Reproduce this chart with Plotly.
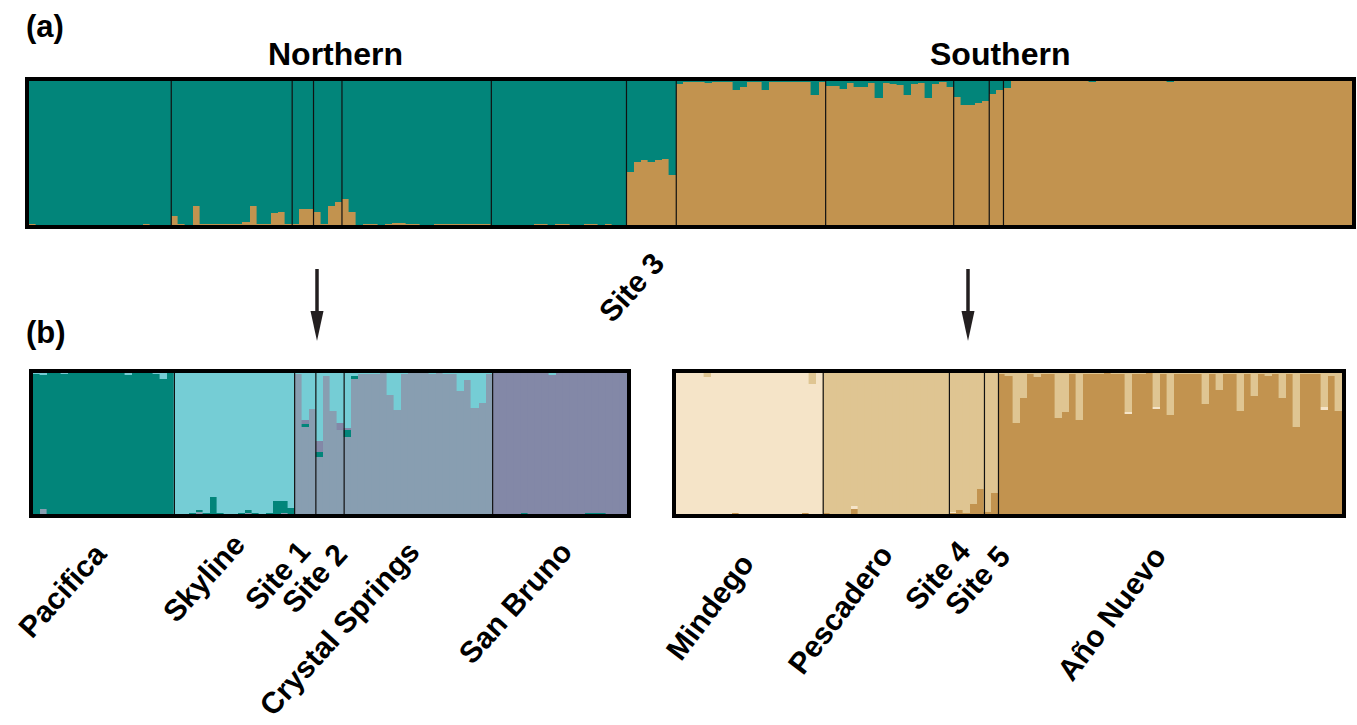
import plotly.graph_objects as go

W, H = 1357, 725

# ---------------- populations ----------------
north_pops = ["Pacifica", "Skyline", "Site 1", "Site 2", "Crystal Springs", "San Bruno"]
north_sizes = [20, 17, 3, 4, 21, 19]
mid_pops = ["Site 3"]
mid_sizes = [7]
south_pops = ["Mindego", "Pescadero", "Site 4", "Site 5", "Año Nuevo"]
south_sizes = [21, 18, 5, 2, 49]

# ---------------- (a) K = 2 : southern-cluster (tan) share of northern + Site 3 birds
a_north_tan = (
    [0.01, 0, 0, 0, 0, 0, 0, 0, 0, 0, 0, 0, 0, 0, 0, 0, 0.005, 0, 0, 0]                      # Pacifica
    + [0.06, 0.005, 0, 0.13, 0.01, 0.005, 0.01, 0.005, 0.01, 0.01, 0.02, 0.13, 0.005, 0.01,
       0.08, 0.09, 0.01]                                                                   # Skyline
    + [0.01, 0.11, 0.11]                                                                   # Site 1
    + [0.09, 0.01, 0.13, 0.16]                                                             # Site 2
    + [0.18, 0.09, 0, 0.01, 0.005, 0, 0.005, 0.015, 0.015, 0.005, 0.005, 0.003, 0, 0.005,
       0.005, 0.005, 0.008, 0.005, 0.005, 0.008, 0.008]                                    # Crystal Springs
    + [0, 0, 0, 0, 0.003, 0, 0.005, 0.01, 0.003, 0.01, 0.005, 0, 0.003, 0.005, 0.005,
       0.003, 0.005, 0, 0]                                                                 # San Bruno
    + [0.37, 0.44, 0.45, 0.44, 0.45, 0.46, 0.35]                                           # Site 3
)
# northern-cluster (teal) share of southern birds
a_south_teal = (
    [0.02, 0.01, 0.01, 0.005, 0.015, 0.005, 0.005, 0.005, 0.06, 0.045, 0.01, 0.01, 0.06,
     0.005, 0.005, 0.005, 0.005, 0.005, 0.01, 0.1, 0.01]                                   # Mindego
    + [0.035, 0.035, 0.055, 0.015, 0.04, 0.045, 0.015, 0.12, 0.015, 0.02, 0.03, 0.095,
       0.02, 0.015, 0.12, 0.02, 0.01, 0.045]                                               # Pescadero
    + [0.11, 0.17, 0.17, 0.15, 0.14]                                                       # Site 4
    + [0.09, 0.06]                                                                         # Site 5
    + [0.05, 0, 0, 0, 0, 0, 0, 0, 0, 0, 0, 0, 0.01, 0, 0, 0, 0, 0, 0, 0, 0, 0, 0, 0.01,
       0, 0, 0, 0, 0, 0, 0, 0, 0, 0, 0, 0, 0, 0, 0, 0, 0, 0, 0, 0, 0, 0, 0, 0, 0]          # Año Nuevo
)

# ---------------- (b) northern K = 4 (None = remainder / dominant cluster)
bl_grey = (
    [0, 0.035] + [0] * 18
    + [0, 0, 0, 0.015, 0, 0, 0, 0, 0, 0, 0.01, 0, 0, 0, 0, 0.01, 0]
    + [None] * 3 + [None] * 4 + [None] * 21
    + [0] * 19
)
bl_teal = (
    [None] * 20
    + [0, 0.003, 0.005, 0.01, 0.005, 0.12, 0.005, 0, 0, 0.005, 0.02, 0.01, 0, 0.005, 0.09, 0.08, 0.045]
    + [0, 0.02, 0]
    + [0.035, 0, 0, 0]
    + [0.047, 0.025] + [0] * 19
    + [0, 0, 0, 0, 0.008, 0, 0, 0, 0, 0, 0, 0, 0, 0.005, 0.005, 0.005, 0, 0, 0]
)
bl_purple = (
    [0] * 20 + [0] * 17
    + [0, 0.035, 0]
    + [0.083, 0, 0, 0.047]
    + [0.015] + [0] * 20
    + [None] * 19
)
bl_cyan = (
    [0.01, 0.015, 0, 0, 0.005, 0, 0, 0, 0, 0, 0, 0, 0, 0.012, 0, 0, 0, 0.01, 0.04, 0]
    + [None] * 17
    + [0.01, 0.33, 0.255]
    + [0.48, 0.02, 0.27, 0.355]
    + [0.39, 0.02, 0.01, 0.01, 0.005, 0, 0.155, 0.26, 0.005, 0, 0, 0, 0.005, 0, 0.005,
       0.01, 0.125, 0.05, 0.245, 0.21, 0.01]
    + [0, 0, 0, 0, 0, 0, 0, 0, 0.012, 0, 0, 0, 0, 0, 0, 0, 0, 0, 0]
)

# ---------------- (b) southern K = 3
br_orange = (
    [0, 0, 0, 0, 0, 0, 0, 0, 0.005, 0, 0, 0, 0, 0, 0, 0, 0, 0, 0.005, 0, 0]
    + [0.005, 0, 0, 0, 0.035, 0, 0.003, 0, 0, 0, 0, 0, 0, 0, 0, 0, 0, 0]
    + [0.005, 0.03, 0.005, 0.07, 0.177]
    + [0.015, 0.146]
    + [None] * 49
)
br_cream = (
    [None] * 21
    + [0, 0, 0, 0, 0.02] + [0] * 13
    + [0.01, 0, 0, 0, 0]
    + [0, 0]
    + [0] * 18 + [0.012, 0, 0, 0, 0.012] + [0] * 23 + [0.02, 0, 0]
)
br_tan = (
    [0, 0, 0, 0, 0.025] + [0] * 14 + [0.08, 0]
    + [None] * 18 + [None] * 5 + [None] * 2
    + [0.01, 0.02, 0.354, 0.18, 0.005, 0.03, 0.005, 0.005, 0.32, 0.28, 0.005, 0.33, 0.005,
       0.005, 0.005, 0, 0.005, 0.005, 0.28, 0.005, 0.005, 0, 0.24, 0.005, 0.30, 0.005, 0.01,
       0.005, 0.005, 0.22, 0.005, 0.12, 0.005, 0.005, 0.27, 0.005, 0.16, 0.005, 0.02, 0.005,
       0.18, 0.005, 0.38, 0.005, 0.005, 0.005, 0.24, 0.02, 0.27]
)

# ---------------- colours
TEAL = "#02857a"
TAN = "#c2934f"
CYAN = "#75cdd5"
GREY = "#889eb1"
PURPLE = "#8388a7"
CREAM = "#f5e4c8"
MIDTAN = "#dfc592"


def fill_remainder(*arrays):
    n = len(arrays[0])
    out = [list(a) for a in arrays]
    for i in range(n):
        known = sum(a[i] for a in out if a[i] is not None)
        for a in out:
            if a[i] is None:
                a[i] = max(0.0, 1.0 - known)
    return out


bl_grey, bl_teal, bl_purple, bl_cyan = fill_remainder(bl_grey, bl_teal, bl_purple, bl_cyan)
br_orange, br_cream, br_tan = fill_remainder(br_orange, br_cream, br_tan)

a_tan = a_north_tan + [1 - t for t in a_south_teal]
a_teal = [1 - t for t in a_north_tan] + a_south_teal

NA = len(a_tan)
NL = len(bl_grey)
NR = len(br_orange)

fig = go.Figure()


def add_bars(vals, color, xa, ya):
    fig.add_trace(go.Bar(
        x=list(range(len(vals))), y=vals, width=1,
        marker=dict(color=color, line=dict(width=0.4, color=color)),
        xaxis=xa, yaxis=ya, showlegend=False, hoverinfo="skip"))


add_bars(a_tan, TAN, "x", "y")
add_bars(a_teal, TEAL, "x", "y")

add_bars(bl_grey, GREY, "x2", "y2")
add_bars(bl_teal, TEAL, "x2", "y2")
add_bars(bl_purple, PURPLE, "x2", "y2")
add_bars(bl_cyan, CYAN, "x2", "y2")

add_bars(br_orange, TAN, "x3", "y3")
add_bars(br_cream, CREAM, "x3", "y3")
add_bars(br_tan, MIDTAN, "x3", "y3")


def px(x):
    return x / W


def py(y):
    return 1 - y / H


# panel pixel boxes (inner)
A = (29, 81, 1352, 225)
BL = (33, 373, 627, 514)
BR = (676, 373, 1342, 514)

axis_common = dict(showticklabels=False, showgrid=False, zeroline=False, ticks="",
                   showline=False, fixedrange=True)
layout = dict(
    width=W, height=H, margin=dict(l=0, r=0, t=0, b=0),
    paper_bgcolor="white", plot_bgcolor="white",
    barmode="stack", bargap=0, showlegend=False,
    font=dict(family="Liberation Sans, Arial, sans-serif", color="black"),
)
for name, box, n in (("", A, NA), ("2", BL, NL), ("3", BR, NR)):
    layout["xaxis" + name] = dict(axis_common, domain=[px(box[0]), px(box[2])], range=[-0.5, n - 0.5],
                                  anchor="y" + name)
    layout["yaxis" + name] = dict(axis_common, domain=[py(box[3]), py(box[1])], range=[0, 1],
                                  anchor="x" + name)
fig.update_layout(**layout)

shapes = []


def separators(sizes, xref, yref):
    c = 0
    for s in sizes[:-1]:
        c += s
        shapes.append(dict(type="line", xref=xref, yref=yref + " domain", x0=c - 0.5, x1=c - 0.5,
                           y0=0, y1=1, line=dict(color="#111111", width=1.2)))


separators(north_sizes + mid_sizes + south_sizes, "x", "y")
separators(north_sizes, "x2", "y2")
separators(south_sizes, "x3", "y3")

for box in (A, BL, BR):
    shapes.append(dict(type="rect", xref="paper", yref="paper",
                       x0=px(box[0] - 2), x1=px(box[2] + 2), y0=py(box[3] + 2), y1=py(box[1] - 2),
                       line=dict(color="black", width=4), fillcolor="rgba(0,0,0,0)"))

# arrows
for ax in (317, 968):
    shapes.append(dict(type="line", xref="paper", yref="paper", x0=px(ax), x1=px(ax),
                       y0=py(269), y1=py(314), line=dict(color="#231f20", width=3.5)))
    shapes.append(dict(type="path", xref="paper", yref="paper",
                       path=f"M {px(ax-6.5)} {py(311)} L {px(ax+6.5)} {py(311)} L {px(ax)} {py(341)} Z",
                       fillcolor="#231f20", line=dict(width=0)))
fig.update_layout(shapes=shapes)

ann = []


def text(t, x, y, size, angle=0, xanchor="center"):
    ann.append(dict(text=t, x=px(x), y=py(y), xref="paper", yref="paper", showarrow=False,
                    textangle=angle, xanchor=xanchor, yanchor="middle",
                    font=dict(size=size, color="black", family="Liberation Sans, Arial, sans-serif",
                              weight="bold")))


text("(a)", 24, 26, 31, xanchor="left")
text("(b)", 24, 333, 31, xanchor="left")
text("Northern", 335, 54, 32)
text("Southern", 1000, 54, 32)

labels = [("Pacifica", 62, 590, -48), ("Skyline", 203, 578, -48), ("Site 1", 277, 575, -48),
          ("Site 2", 314, 578, -48), ("Crystal Springs", 339, 628, -48), ("San Bruno", 515, 602, -48),
          ("Site 3", 631, 287, -48), ("Mindego", 709, 607, -53), ("Pescadero", 840, 609, -53),
          ("Site 4", 937, 575, -48), ("Site 5", 977, 580, -48), ("Año Nuevo", 1111, 613, -53)]
for t, x, y, ang in labels:
    text(t, x, y, 30, angle=ang)

fig.update_layout(annotations=ann)
fig.write_html("out.html", config={"displayModeBar": False},
               post_script="document.body.style.margin='0';document.body.style.overflow='hidden';")
